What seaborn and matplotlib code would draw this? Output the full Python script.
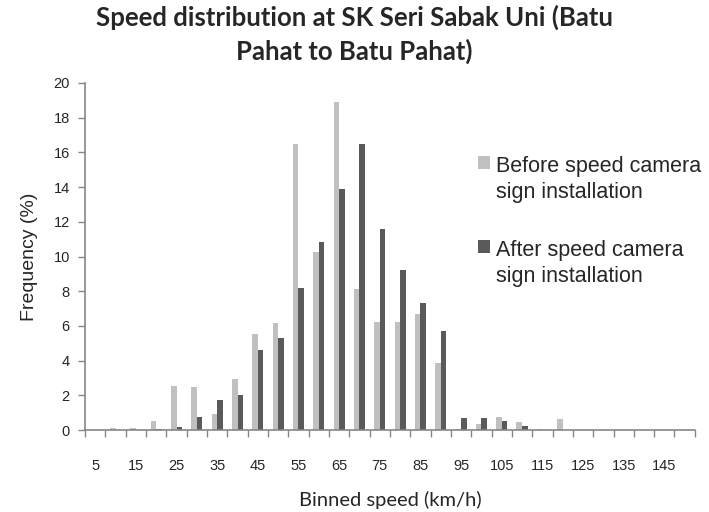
import numpy as np
import pandas as pd
import matplotlib
matplotlib.use("Agg")
import matplotlib.pyplot as plt
from matplotlib.ticker import FixedLocator
import seaborn as sns

# binned speeds (km/h) and frequency (%)
speeds = [5, 10, 15, 20, 25, 30, 35, 40, 45, 50, 55, 60, 65, 70, 75,
          80, 85, 90, 95, 100, 105, 110, 115, 120, 125, 130, 135, 140, 145, 150]
before = [0.0, 0.1, 0.1, 0.55, 2.55, 2.5, 0.95, 2.97, 5.55, 6.16, 16.5, 10.26, 18.9, 8.15, 6.2,
          6.2, 6.66, 3.86, 0.05, 0.35, 0.75, 0.45, 0.08, 0.63, 0.0, 0.0, 0.0, 0.0, 0.0, 0.0]
after = [0.0, 0.0, 0.0, 0.05, 0.2, 0.78, 1.75, 2.0, 4.63, 5.3, 8.2, 10.82, 13.9, 16.47, 11.57,
         9.2, 7.32, 5.7, 0.69, 0.69, 0.5, 0.22, 0.0, 0.0, 0.0, 0.0, 0.0, 0.0, 0.0, 0.0]
series = ["Before speed camera\nsign installation", "After speed camera\nsign installation"]
colors = ["#c0c0c0", "#5a5a5a"]
yticks = [0, 2, 4, 6, 8, 10, 12, 14, 16, 18, 20]

cats = [str(s) for s in speeds]
df = pd.DataFrame({
    "speed": cats * 2,
    "freq": before + after,
    "period": [series[0]] * len(cats) + [series[1]] * len(cats),
})

sns.set_style("white")
plt.rcParams["font.family"] = ["Liberation Sans", "DejaVu Sans"]

fig = plt.figure(figsize=(7.09, 5.12), dpi=100)
ax = fig.add_axes([0.12, 0.16, 0.86, 0.678])

sns.barplot(data=df, x="speed", y="freq", hue="period", order=cats, hue_order=series,
            palette=colors, saturation=1, width=0.55, linewidth=0, ax=ax)

ax.set_xlim(-0.5, len(cats) - 0.5)
ax.set_ylim(0, 20)
ax.set_yticks(yticks)
ax.tick_params(axis="y", labelsize=10.5, left=True, length=5, width=1, color="#868686", pad=6)

# labels on every other bin, tick marks on bin boundaries
ax.set_xticks(range(len(cats)))
ax.set_xticklabels([c if i % 2 == 0 else "" for i, c in enumerate(cats)])
ax.tick_params(axis="x", which="major", labelsize=10.5, length=0, pad=21)
ax.xaxis.set_minor_locator(FixedLocator(np.arange(len(cats) + 1) - 0.5))
ax.tick_params(axis="x", which="minor", bottom=True, length=5, width=1, color="#868686")

for s in ["top", "right"]:
    ax.spines[s].set_visible(False)
for s in ["left", "bottom"]:
    ax.spines[s].set_color("#868686")
    ax.spines[s].set_linewidth(1.2)

ax.set_ylabel("Frequency (%)", fontsize=14, labelpad=11)
ax.set_xlabel("Binned speed (km/h)", fontsize=14.5, family=["Lato", "DejaVu Sans"], labelpad=13)

handles, labels = ax.get_legend_handles_labels()
leg = ax.legend(handles, labels, loc="upper left", bbox_to_anchor=(0.645, 0.79), frameon=False,
                fontsize=15.5, labelspacing=1.75, handlelength=0.55, handleheight=0.55,
                handletextpad=0.25, borderaxespad=0.0, borderpad=0.0)
for t in leg.get_texts():
    t.set_linespacing(1.3)
# put the colour square beside the first line of each label
for col in leg._legend_handle_box.get_children():
    for item in col.get_children():
        item.align = "top"

fig.suptitle("Speed distribution at SK Seri Sabak Uni (Batu\nPahat to Batu Pahat)",
             x=0.5, y=0.99, fontsize=18.5, fontweight="bold",
             family=["Lato", "DejaVu Sans"], linespacing=1.38)

fig.savefig("out.png", dpi=100)
